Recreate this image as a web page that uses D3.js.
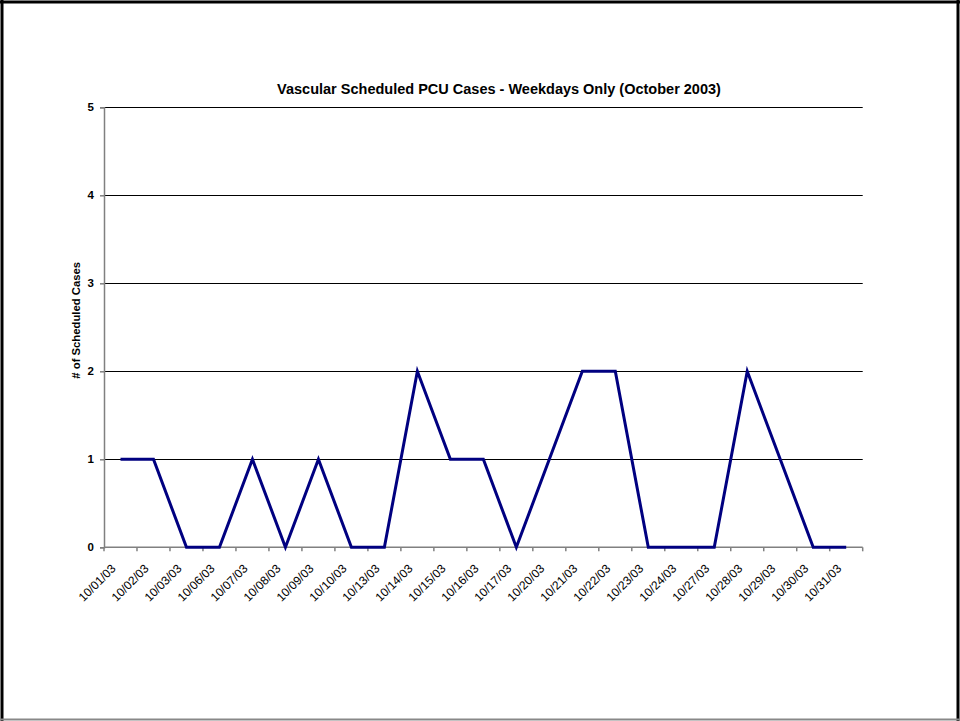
<!DOCTYPE html>
<html>
<head>
<meta charset="utf-8">
<script src="https://cdn.jsdelivr.net/npm/d3@7"></script>
<style>
  html, body { margin: 0; padding: 0; background: #fff; }
  svg { display: block; }
  text { font-family: "Liberation Sans", Arial, sans-serif; fill: #000; }
</style>
</head>
<body>
<svg id="chart" width="960" height="721"></svg>
<script>
// Weekday dates in October 2003
const dates = ["10/01/03","10/02/03","10/03/03","10/06/03","10/07/03","10/08/03","10/09/03","10/10/03",
  "10/13/03","10/14/03","10/15/03","10/16/03","10/17/03","10/20/03","10/21/03","10/22/03",
  "10/23/03","10/24/03","10/27/03","10/28/03","10/29/03","10/30/03","10/31/03"];
// Scheduled vascular PCU cases per day
const cases = [1,1,0,0,1,0,1,0, 0,2,1,1,0,1,2,2, 0,0,0,2,1,0,0];
const yTicks = [0,1,2,3,4,5];
const titleText = "Vascular Scheduled PCU Cases - Weekdays Only (October 2003)";
const yTitle = "# of Scheduled Cases";

const svg = d3.select("#chart");
const W = 960, H = 721;

// outer frame
svg.append("rect").attr("x", 0).attr("y", 0).attr("width", W).attr("height", H).attr("fill", "#fff");
svg.append("line").attr("x1", 0).attr("x2", W).attr("y1", 2).attr("y2", 2).attr("stroke", "#000").attr("stroke-width", 3);
svg.append("line").attr("x1", 2).attr("x2", 2).attr("y1", 0).attr("y2", H).attr("stroke", "#000").attr("stroke-width", 3);
svg.append("line").attr("x1", W - 2).attr("x2", W - 2).attr("y1", 0).attr("y2", H).attr("stroke", "#000").attr("stroke-width", 3);
svg.append("line").attr("x1", 0).attr("x2", W).attr("y1", H - 1.5).attr("y2", H - 1.5).attr("stroke", "#888").attr("stroke-width", 2);

const plotLeft = 104, plotRight = 862.7, plotTop = 107.3, plotBottom = 547.3;

const x = d3.scaleBand().domain(dates).range([plotLeft, plotRight]).paddingInner(0).paddingOuter(0);
const y = d3.scaleLinear().domain([0, 5]).range([plotBottom, plotTop]);

// horizontal gridlines
svg.append("g").selectAll("line").data(yTicks.filter(d => d > 0)).join("line")
  .attr("x1", plotLeft).attr("x2", plotRight)
  .attr("y1", d => Math.round(y(d)) + 0.5).attr("y2", d => Math.round(y(d)) + 0.5)
  .attr("stroke", "#000").attr("stroke-width", 1.2);

// y axis
const yAxis = svg.append("g").attr("transform", `translate(${plotLeft},0)`)
  .call(d3.axisLeft(y).tickValues(yTicks).tickSize(4).tickPadding(6).tickFormat(d3.format("d")));
yAxis.select(".domain").attr("stroke", "#808080").attr("stroke-width", 1.5);
yAxis.selectAll(".tick line").attr("stroke", "#808080").attr("stroke-width", 1.5);
yAxis.selectAll(".tick text").attr("font-size", 11.5).attr("font-weight", "bold")
  .attr("font-family", "Liberation Sans, Arial, sans-serif").attr("fill", "#000");

// x axis with ticks at category boundaries
const boundaries = dates.map(d => x(d)).concat([plotRight]);
svg.append("line").attr("x1", plotLeft).attr("x2", plotRight).attr("y1", plotBottom).attr("y2", plotBottom)
  .attr("stroke", "#808080").attr("stroke-width", 1.5);
svg.append("g").selectAll("line").data(boundaries).join("line")
  .attr("x1", d => d).attr("x2", d => d).attr("y1", plotBottom).attr("y2", plotBottom + 4)
  .attr("stroke", "#808080").attr("stroke-width", 1.5);

// rotated category labels
svg.append("g").selectAll("text").data(dates).join("text")
  .attr("transform", d => `translate(${x(d) + x.bandwidth() / 2 - 4},${plotBottom + 22}) rotate(-45)`)
  .attr("text-anchor", "end")
  .attr("font-size", 12)
  .attr("fill", "#000")
  .text(d => d);

// data line
const line = d3.line()
  .x((d, i) => x(dates[i]) + x.bandwidth() / 2)
  .y(d => y(d));
svg.append("path").datum(cases)
  .attr("d", line)
  .attr("fill", "none")
  .attr("stroke", "#000080")
  .attr("stroke-width", 3)
  .attr("stroke-linejoin", "miter");

// title
svg.append("text").attr("x", 499).attr("y", 94).attr("text-anchor", "middle")
  .attr("font-size", 14.5).attr("font-weight", "bold").text(titleText);

// y axis title
svg.append("text").attr("transform", `translate(80,${(plotTop + plotBottom) / 2 - 7}) rotate(-90)`)
  .attr("text-anchor", "middle").attr("font-size", 11.3).attr("font-weight", "bold").text(yTitle);
</script>
</body>
</html>
